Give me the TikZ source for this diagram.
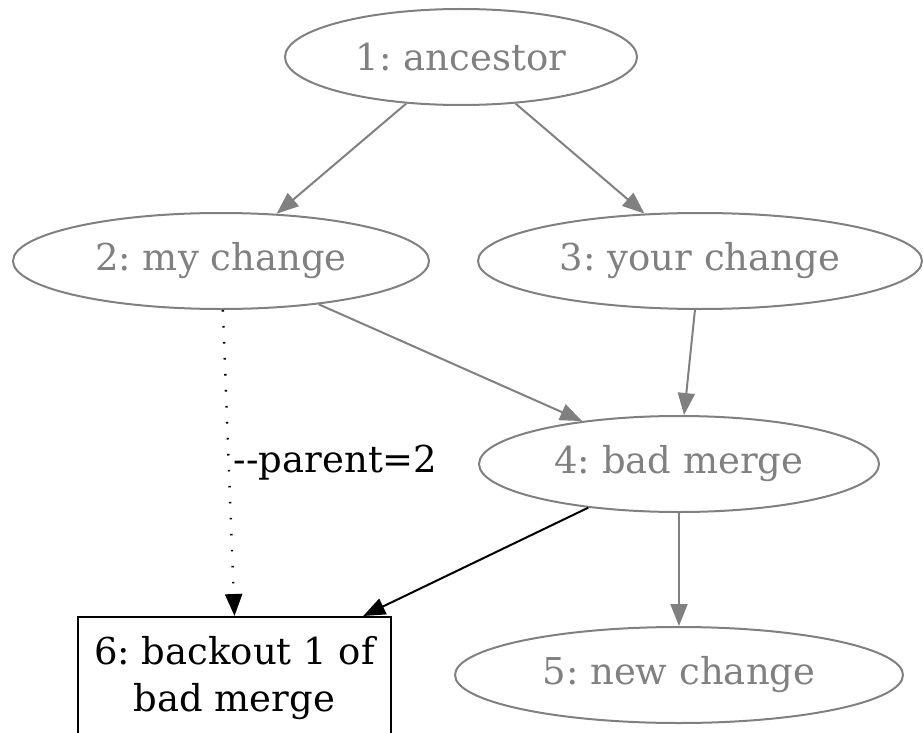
\documentclass[tikz,border=0pt]{standalone}
\usepackage{fontspec}
\setmainfont{DejaVu Serif}
\usetikzlibrary{shapes.geometric,arrows.meta}
\definecolor{gv}{HTML}{808080}
\frenchspacing
\tikzset{
  cnode/.style={ellipse,draw=gv,line width=2pt,text=gv,inner sep=0pt,
    font=\fontsize{37}{47}\selectfont,minimum height=96pt},
  bnode/.style={rectangle,draw=black,line width=2pt,text=black,inner sep=0pt,
    font=\fontsize{37}{47}\selectfont,align=center,minimum width=313pt,minimum height=122pt},
  gedge/.style={draw=gv,line width=2pt,-{Triangle[length=22pt,width=17pt]}},
  bedge/.style={draw=black,line width=2pt,-{Triangle[length=22pt,width=17pt]}},
  dedge/.style={draw=black,line width=2.4pt,dash pattern={on 1.6pt off 14.4pt},-{Triangle[length=22pt,width=17pt]}},
}
\begin{document}
\begin{tikzpicture}[x=1pt,y=-1pt]
\useasboundingbox (0,0) rectangle (923,733);
\node[cnode,minimum width=352pt] (n1) at (461,57) {1: ancestor};
\node[cnode,minimum width=416pt] (n2) at (221,261) {2: my change};
\node[cnode,minimum width=444pt] (n3) at (700,261) {3: your change};
\node[cnode,minimum width=400pt] (n4) at (679,464) {4: bad merge};
\node[cnode,minimum width=448pt] (n5) at (679,675) {5: new change};
\node[bnode] (n6) at (234.5,678) {6: backout 1 of\\bad merge};
\draw[gedge] (n1) -- (n2);
\draw[gedge] (n1) -- (n3);
\draw[gedge] (n2) -- (n4);
\draw[gedge] (n3) -- (n4);
\draw[gedge] (n4) -- (n5);
\draw[bedge] (n4) -- (n6);
\draw[dedge] (n2) -- node[pos=0.5,right,inner sep=0pt,xshift=4pt,text=black,font=\fontsize{37}{43}\selectfont] (lab) {-{}-parent=2} (n6.north);
\end{tikzpicture}
\end{document}
